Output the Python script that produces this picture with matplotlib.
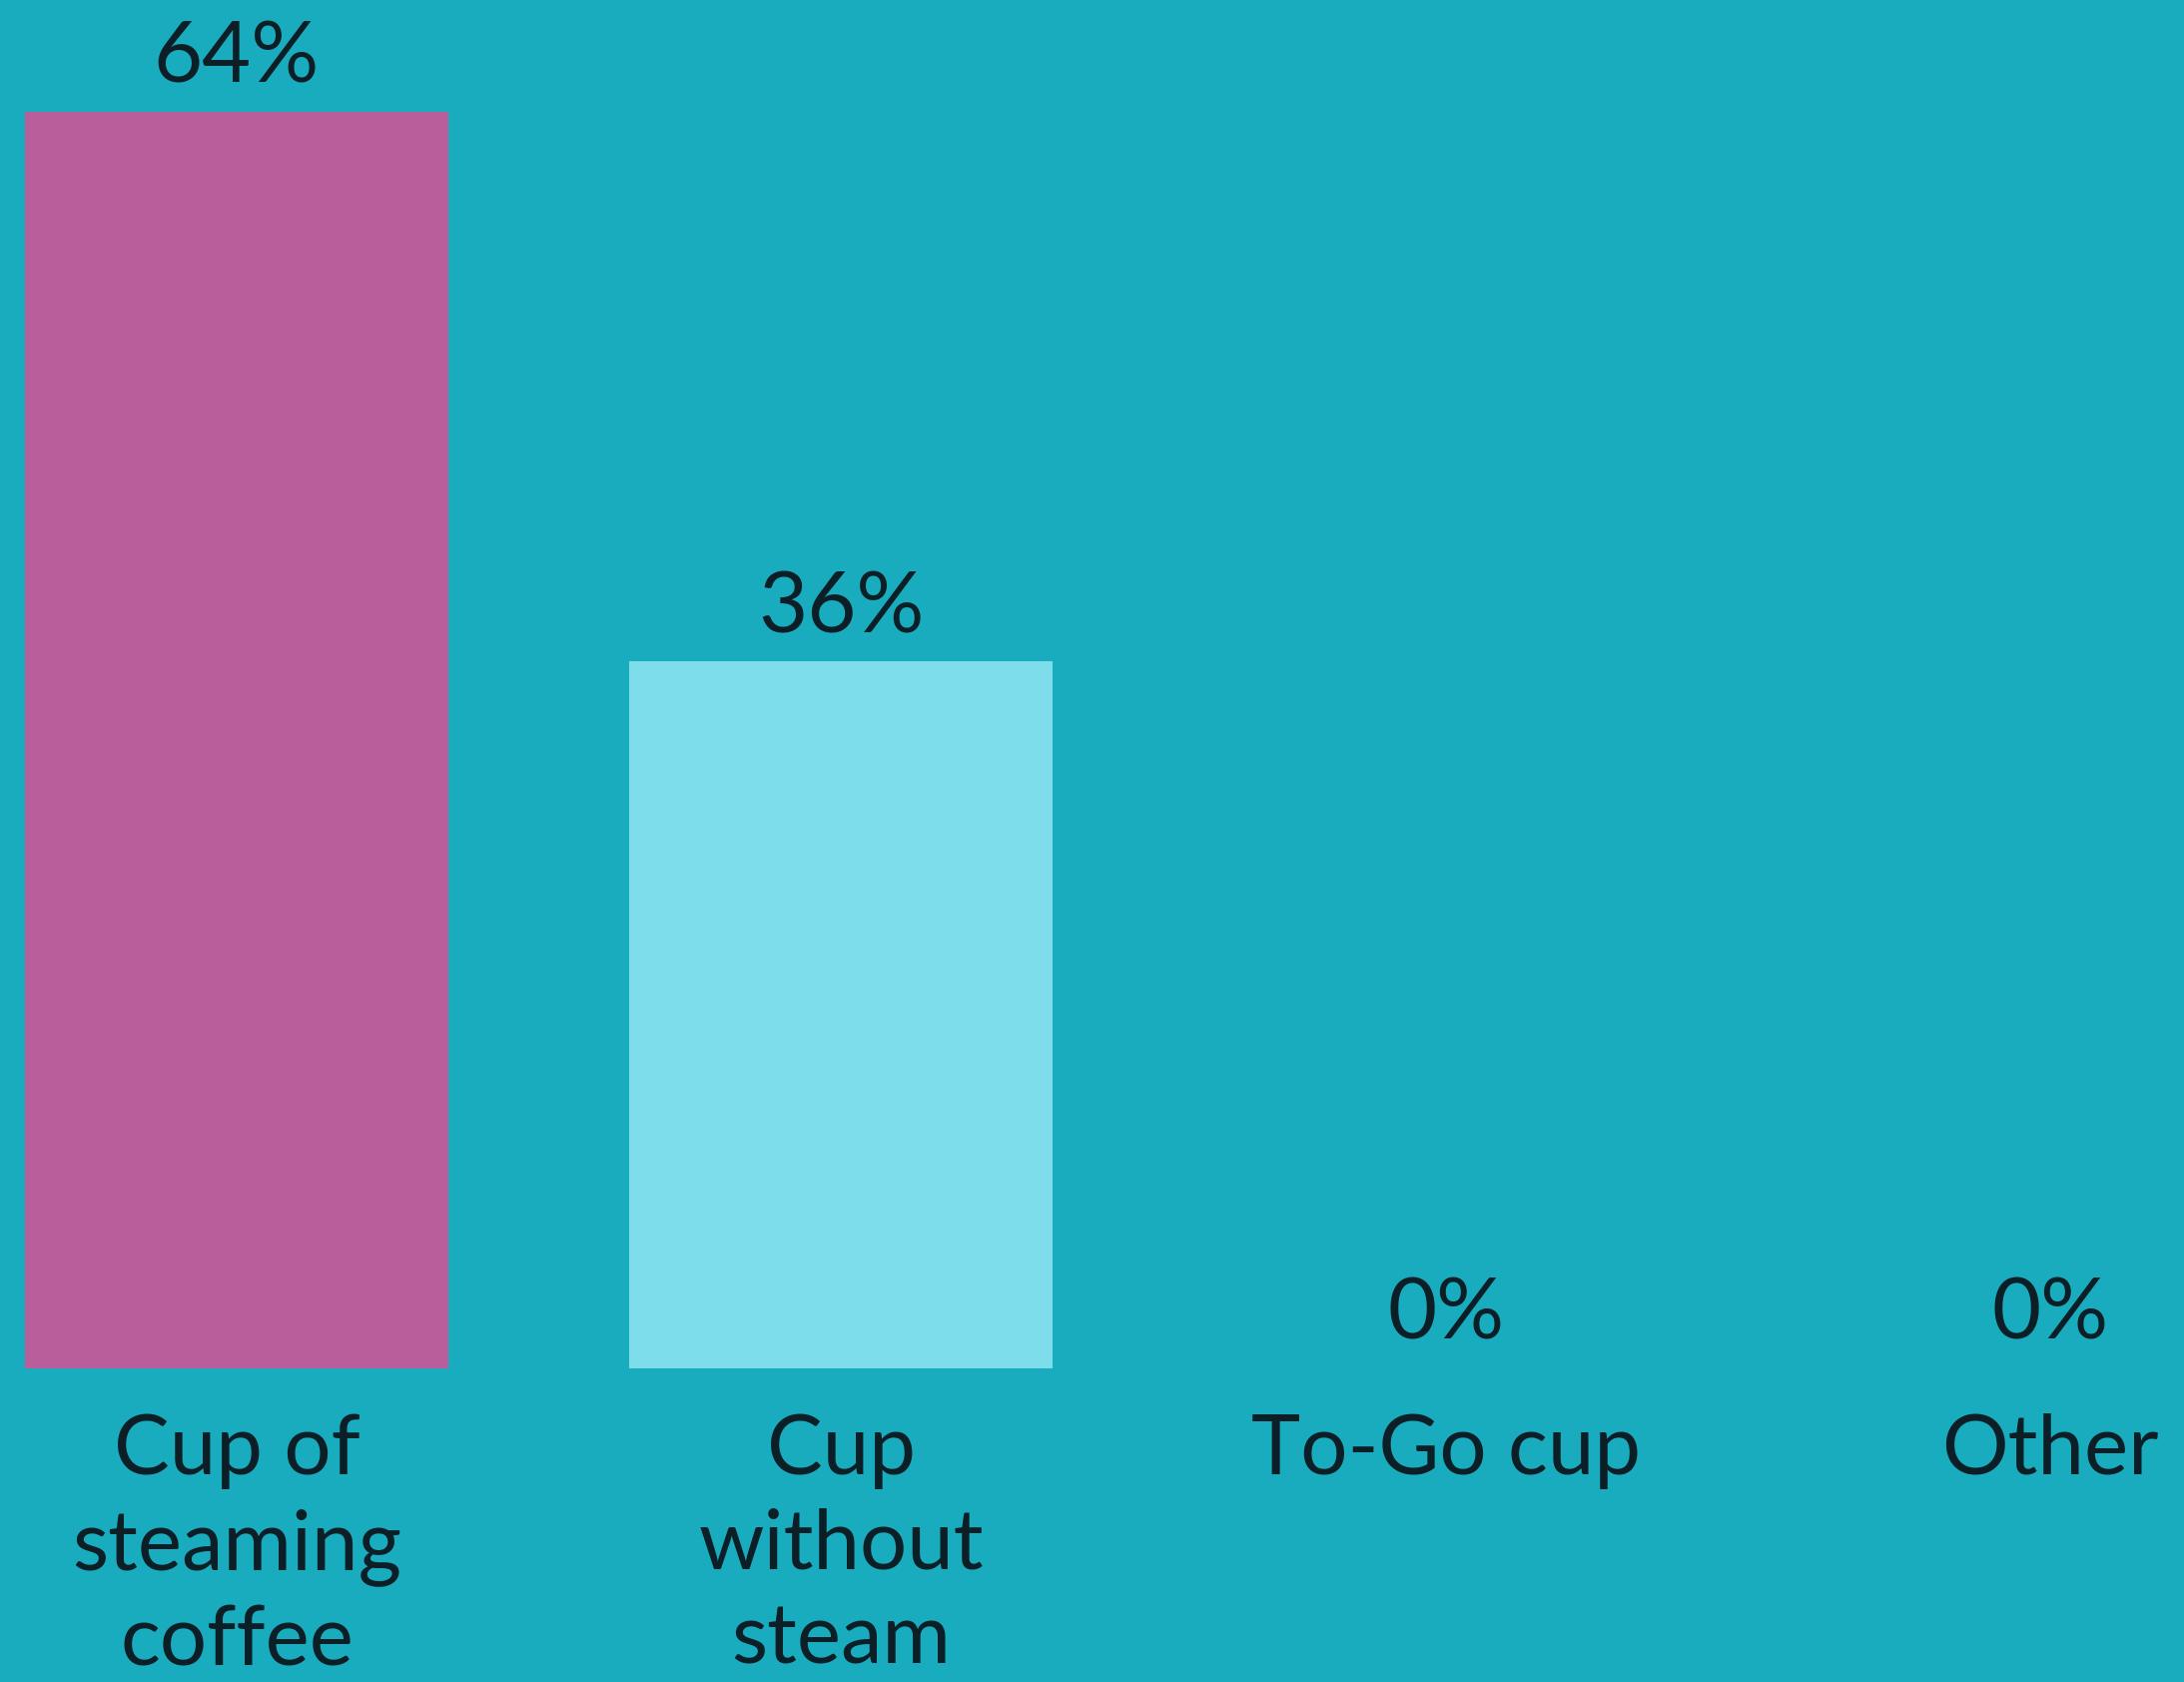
import matplotlib.pyplot as plt
from matplotlib.transforms import blended_transform_factory

categories = ["Cup of\nsteaming\ncoffee", "Cup\nwithout\nsteam", "To-Go cup", "Other"]
shares = [64, 36, 0, 0]
bar_colors = ["#B95E9A", "#7EDDEA", "#7EDDEA", "#7EDDEA"]

bg = "#19ACBF"
ink = "#0C1E26"

plt.rcParams['font.family'] = ['Lato', 'DejaVu Sans']

fig = plt.figure(figsize=(21.87, 16.84), dpi=100, facecolor=bg)
ax = fig.add_axes([0, 0.1865, 1, 0.8135])
ax.set_facecolor(bg)

xs = range(len(categories))
ax.bar(xs, shares, width=0.70, color=bar_colors, linewidth=0)

ax.set_xlim(-0.3915, 3.2215)
ax.set_ylim(0, 69.7)
ax.axis("off")

# value labels just above each bar
for x, v in zip(xs, shares):
    ax.annotate(f"{v}%", (x, v), xytext=(0, 21), textcoords="offset points",
                ha="center", va="baseline", fontsize=61, color=ink)

# category names under the baseline, first lines aligned
trans = blended_transform_factory(ax.transData, fig.transFigure)
for x, name in zip(xs, categories):
    ax.text(x, 0.1598, name, transform=trans, ha="center", va="top",
            fontsize=60, color=ink, linespacing=1.31, clip_on=False)

fig.savefig("out.png", dpi=100, facecolor=bg)
